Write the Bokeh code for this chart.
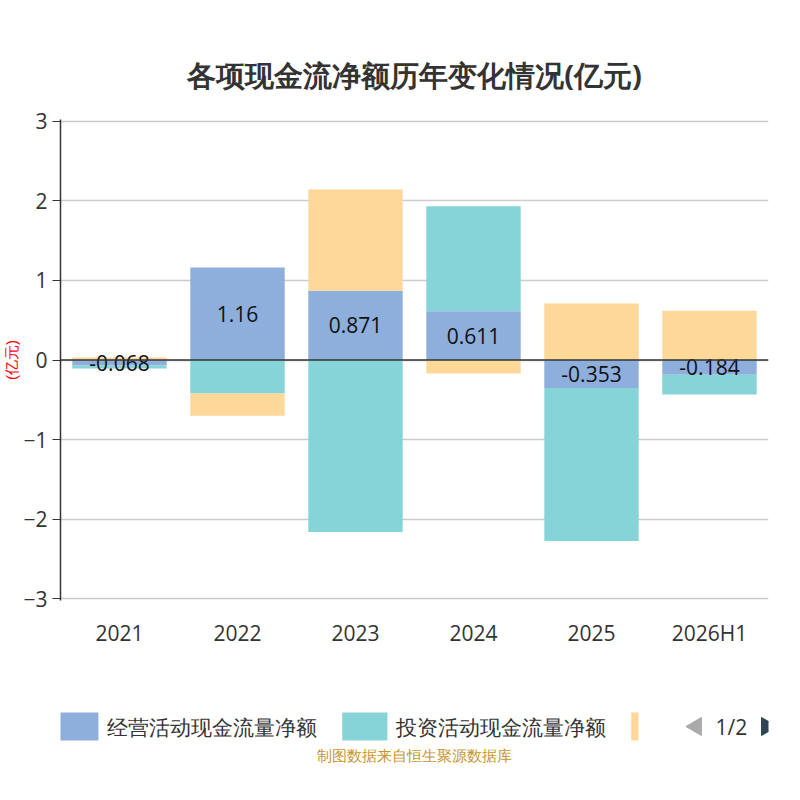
import numpy as np
from bokeh.plotting import figure
from bokeh.models import Title, ColumnDataSource, Span
from bokeh.layouts import column
from bokeh.core.properties import value
from bokeh.embed import file_html
from bokeh.resources import INLINE

years = ["2021", "2022", "2023", "2024", "2025", "2026H1"]
op = [-0.068, 1.16, 0.871, 0.611, -0.353, -0.184]
inv = [-0.04, -0.42, -2.16, 1.32, -1.92, -0.25]
fin = [0.03, -0.28, 1.27, -0.17, 0.71, 0.62]
names = ["经营活动现金流量净额", "投资活动现金流量净额", "筹资活动现金流量净额"]
colors = ["#8eaedb", "#86d4d8", "#fed899"]
yticks = [-3, -2, -1, 0, 1, 2, 3]
F = "Open Sans"

p = figure(width=784, height=660, x_range=years, y_range=(-3.02, 3.02),
           output_backend="svg", toolbar_location=None,
           min_border_left=58, min_border_right=16, min_border_top=119, min_border_bottom=60)
p.add_layout(Title(text="各项现金流净额历年变化情况(亿元)", align="center", text_font_size="29px",
                   text_font=F, text_color="#333333", offset=0, standoff=52), "above")

pos = np.zeros(len(years)); neg = np.zeros(len(years))
for vals, c in zip([op, inv, fin], colors):
    v = np.array(vals)
    bottom = np.where(v >= 0, pos, neg)
    top = bottom + v
    pos = np.where(v >= 0, top, pos)
    neg = np.where(v < 0, top, neg)
    src = ColumnDataSource(dict(x=years, b=bottom, t=top))
    p.vbar(x="x", bottom="b", top="t", width=0.8, source=src, fill_color=c, line_color=None)

p.add_layout(Span(location=0, dimension="width", line_color="#333333", line_width=1.5))
lab = ColumnDataSource(dict(x=years, y=[v / 2 for v in op], t=[str(v) for v in op]))
p.text(x="x", y="y", text="t", source=lab, text_align="center", text_baseline="middle",
       text_font_size="21px", text_color="#111111", text_font=value(F))

p.yaxis.ticker = yticks
p.xgrid.grid_line_color = None
p.ygrid.grid_line_color = "#cccccc"
p.ygrid.grid_line_width = 1.5
p.outline_line_color = None
for ax in [p.xaxis, p.yaxis]:
    ax.axis_line_color = "#333333"
    ax.axis_line_width = 1.5
    ax.major_tick_line_color = "#333333"
    ax.major_label_text_font = F
    ax.major_label_text_font_size = "21px"
    ax.major_label_text_color = "#333333"
    ax.minor_tick_line_color = None
p.xaxis.axis_line_color = None
p.xaxis.major_tick_line_color = None
p.xaxis.major_label_standoff = 12
p.yaxis.major_tick_in = 0
p.yaxis.major_tick_out = 8
p.yaxis.axis_label = "(亿元)"
p.yaxis.axis_label_text_color = "red"
p.yaxis.axis_label_text_font_size = "15px"
p.yaxis.axis_label_text_font_style = "normal"
p.yaxis.axis_label_standoff = 0

q = figure(width=784, height=124, x_range=(0, 784), y_range=(0, 124),
           output_backend="svg", toolbar_location=None, min_border=0)
q.axis.visible = False
q.grid.grid_line_color = None
q.outline_line_color = None
sx = [-8 + 25, 312 + 25, 632 + 25]
q.rect(x=sx, y=[58] * 3, width=50, height=28, fill_color=colors, line_color=None)
q.text(x=[52, 372], y=[58, 58], text=names[:2], text_baseline="middle",
       text_font_size="21px", text_color="#333333", text_font=value(F))
q.rect(x=[665, 683], y=[58, 58], width=[50, 18], height=30, fill_color="white", line_color=None)
q.scatter(x=[704], y=[58], marker="triangle", angle=1.5708, size=18, color="#aaaaaa")
q.scatter(x=[782], y=[58], marker="triangle", angle=-1.5708, size=18, color="#2f4554")
q.text(x=[743], y=[58], text=["1/2"], text_align="center", text_baseline="middle",
       text_font_size="21px", text_color="#333333", text_font=value(F))
q.text(x=[392], y=[30], text=["制图数据来自恒生聚源数据库"], text_align="center",
       text_baseline="middle", text_font_size="15px", text_color="#c8962e", text_font=value(F))

open("out.html", "w").write(file_html(column(p, q, spacing=0), INLINE))
